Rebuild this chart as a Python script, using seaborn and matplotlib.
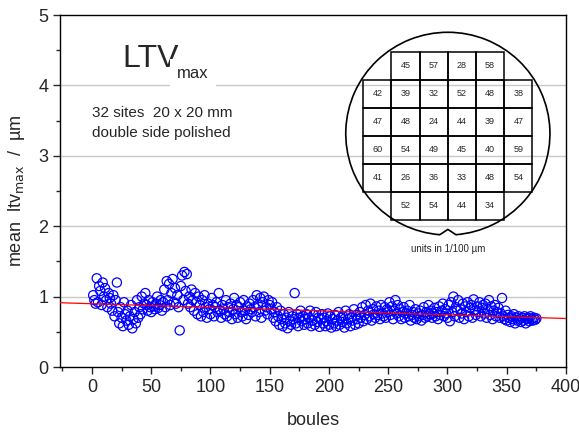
import numpy as np
import pandas as pd
import seaborn as sns
import matplotlib.pyplot as plt
from matplotlib.patches import Arc

# mean ltv_max per boule (um)
ltv = [
    1.02, 0.95, 0.90, 1.26, 0.92, 1.15, 1.08, 0.88, 1.20, 1.00, 1.12, 0.95, 0.85, 1.05, 0.98,
    0.90, 0.80, 1.02, 0.72, 0.95, 1.20, 0.78, 0.62, 0.85, 0.70, 0.58, 0.92, 0.75, 0.66, 0.80,
    0.60, 0.72, 0.88, 0.55, 0.68, 0.78, 0.62, 0.95, 0.70, 0.85, 0.75, 1.00, 0.82, 0.90, 1.05,
    0.88, 0.80, 0.95, 0.85, 0.78, 0.92, 0.86, 0.82, 0.90, 1.00, 0.84, 0.88, 0.95, 0.80, 0.92,
    1.10, 0.85, 1.22, 0.95, 1.18, 0.88, 1.05, 1.25, 0.92, 1.12, 0.90, 1.02, 0.85, 0.52, 1.15,
    1.30, 0.95, 1.35, 1.08, 1.32, 0.90, 1.00, 0.85, 1.10, 0.95, 0.80, 1.05, 0.92, 0.75, 1.00,
    0.88, 0.72, 0.95, 0.78, 1.02, 0.85, 0.70, 0.90, 0.82, 0.75, 0.98, 0.88, 0.72, 0.85, 0.92,
    0.78, 1.05, 0.80, 0.70, 0.88, 0.82, 0.75, 0.95, 0.72, 0.85, 0.78, 0.90, 0.68, 0.82, 0.98,
    0.75, 0.88, 0.70, 0.85, 0.92, 0.78, 0.72, 0.95, 0.80, 0.68, 0.86, 0.74, 0.90, 0.82, 0.78,
    0.95, 0.85, 0.72, 1.02, 0.88, 0.78, 0.98, 0.70, 0.92, 1.00, 0.80, 0.85, 0.75, 0.95, 0.88,
    0.82, 0.92, 0.70, 0.78, 0.65, 0.85, 0.72, 0.60, 0.80, 0.68, 0.58, 0.75, 0.62, 0.70, 0.55,
    0.78, 0.65, 0.60, 0.72, 0.68, 1.05, 0.62, 0.75, 0.58, 0.70, 0.80, 0.65, 0.72, 0.60, 0.68,
    0.75, 0.62, 0.70, 0.80, 0.58, 0.66, 0.74, 0.60, 0.78, 0.64, 0.70, 0.57, 0.68, 0.75, 0.62,
    0.70, 0.58, 0.65, 0.76, 0.60, 0.72, 0.56, 0.68, 0.62, 0.74, 0.58, 0.66, 0.78, 0.60, 0.70,
    0.64, 0.72, 0.56, 0.80, 0.62, 0.68, 0.75, 0.58, 0.70, 0.66, 0.82, 0.60, 0.74, 0.68, 0.62,
    0.78, 0.70, 0.85, 0.65, 0.74, 0.88, 0.68, 0.80, 0.72, 0.90, 0.66, 0.82, 0.75, 0.70, 0.86,
    0.74, 0.80, 0.68, 0.88, 0.76, 0.72, 0.85, 0.70, 0.82, 0.78, 0.92, 0.74, 0.86, 0.68, 0.80,
    0.95, 0.76, 0.88, 0.72, 0.82, 0.68, 0.78, 0.85, 0.70, 0.76, 0.80, 0.72, 0.88, 0.66, 0.74,
    0.78, 0.70, 0.82, 0.68, 0.76, 0.72, 0.80, 0.66, 0.74, 0.85, 0.70, 0.78, 0.72, 0.88, 0.75,
    0.80, 0.70, 0.76, 0.84, 0.72, 0.78, 0.68, 0.86, 0.74, 0.80, 0.90, 0.72, 0.82, 0.76, 0.70,
    0.88, 0.65, 0.92, 0.78, 1.00, 0.72, 0.85, 0.80, 0.95, 0.70, 0.82, 0.76, 0.90, 0.68, 0.86,
    0.78, 0.92, 0.72, 0.84, 0.88, 0.70, 0.96, 0.80, 0.74, 0.86, 0.78, 0.92, 0.72, 0.84, 0.88,
    0.76, 0.90, 0.70, 0.82, 0.95, 0.74, 0.86, 0.68, 0.80, 0.88, 0.72, 0.78, 0.84, 0.70, 0.76,
    0.98, 0.72, 0.68, 0.80, 0.66, 0.74, 0.70, 0.64, 0.72, 0.68, 0.75, 0.62, 0.70, 0.66, 0.72,
    0.68, 0.64, 0.70, 0.66, 0.72, 0.62, 0.68, 0.70, 0.65, 0.72, 0.68, 0.66, 0.70, 0.67, 0.69,
]
boules = list(range(1, len(ltv) + 1))

# wafer map values, units 1/100 um (rows top to bottom)
site_rows = [
    [None, 45, 57, 28, 58, None],
    [42, 39, 32, 52, 48, 38],
    [47, 48, 24, 44, 39, 47],
    [60, 54, 49, 45, 40, 59],
    [41, 26, 36, 33, 48, 54],
    [None, 52, 54, 44, 34, None],
]

df = pd.DataFrame({'boule': boules, 'ltv': ltv})

sns.set_style('ticks')
plt.rcParams['font.family'] = ['Liberation Sans', 'DejaVu Sans']

fig = plt.figure(figsize=(5.79, 4.32), dpi=100)
ax = fig.add_axes([60 / 579, 65 / 432, 506 / 579, 352 / 432])

ax.set_xlim(-27, 400)
ax.set_ylim(0, 5)
for yv in [1, 2, 3, 4]:
    ax.axhline(yv, color='#c8c8c8', lw=1, zorder=0)

sns.scatterplot(data=df, x='boule', y='ltv', ax=ax, marker='o', s=44,
                facecolor='none', edgecolor='#0000ff', linewidth=0.9, zorder=3)
sns.regplot(data=df, x='boule', y='ltv', ax=ax, scatter=False, ci=None,
            truncate=False, color='red', line_kws={'lw': 0.9, 'zorder': 4})

ax.set_xticks(range(0, 401, 50))
ax.set_xticks(range(-25, 400, 50), minor=True)
ax.set_yticks(range(0, 6))
ax.set_yticks(np.arange(0.5, 5, 1.0), minor=True)
ax.tick_params(which='major', direction='out', length=5, width=1, labelsize=13,
               top=False, right=False)
ax.tick_params(which='minor', direction='out', length=3, width=1, top=False, right=False)
for sp in ax.spines.values():
    sp.set_linewidth(1)
    sp.set_color('black')

ax.set_xlabel('boules', fontsize=13, labelpad=12)
ax.set_ylabel(r'mean  ltv$_{\mathrm{max}}$  /  µm', fontsize=13, labelpad=8)

# title-like annotation
ax.text(26, 4.26, 'LTV', fontsize=23, ha='left', va='baseline', zorder=5,
        bbox=dict(facecolor='white', edgecolor='none', pad=6))
ax.text(72, 4.1, 'max', fontsize=12, ha='left', va='baseline', zorder=6,
        bbox=dict(facecolor='white', edgecolor='none', pad=5))
ax.text(0, 3.55, '32 sites  20 x 20 mm', fontsize=11, ha='left', va='baseline')
ax.text(0, 3.27, 'double side polished', fontsize=11, ha='left', va='baseline')

# wafer inset
ins = fig.add_axes([343.5 / 579, 176 / 432, 208.7 / 579, 238 / 432])
ins.set_xlim(-3.7, 3.7)
ins.set_ylim(-4.3, 4.2)
ins.set_facecolor('white')
ins.axis('off')
ins.patch.set_visible(True)
ins.set_zorder(5)

r = 3.62
notch = 9
ins.add_patch(Arc((0, 0.07), 2 * r, 2 * r, theta1=-90 + notch / 2, theta2=270 - notch / 2,
                  color='black', lw=1.2))
a1 = np.radians(-90 - notch / 2)
a2 = np.radians(-90 + notch / 2)
ins.plot([r * np.cos(a1), 0, r * np.cos(a2)],
         [0.07 + r * np.sin(a1), 0.07 - r + 0.2, 0.07 + r * np.sin(a2)],
         color='black', lw=1.2)

for i, row in enumerate(site_rows):
    y0 = 3 - i
    for j, val in enumerate(row):
        if val is None:
            continue
        x0 = j - 3
        ins.add_patch(plt.Rectangle((x0, y0 - 1), 1, 1, fill=False,
                                    edgecolor='black', lw=1.1))
        ins.text(x0 + 0.5, y0 - 0.5, str(val), fontsize=6.5, ha='center', va='center')

ins.text(0, -4.05, 'units in 1/100 µm', fontsize=7, ha='center', va='center')

fig.savefig('out.png', dpi=100)
